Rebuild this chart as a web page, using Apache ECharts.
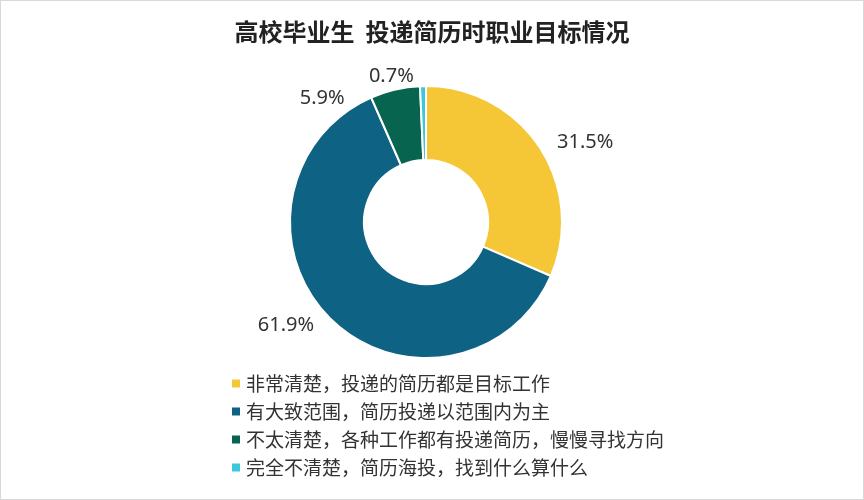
<!DOCTYPE html>
<html><head><meta charset="utf-8">
<script src="https://cdn.jsdelivr.net/npm/echarts@6/dist/echarts.min.js"></script>
<style>body{margin:0;background:#fff}#main{width:862px;height:498px;border:1px solid #d9d9d9}</style>
</head><body><div id="main"></div>
<script>
var categories = ['非常清楚，投递的简历都是目标工作', '有大致范围，简历投递以范围内为主', '不太清楚，各种工作都有投递简历，慢慢寻找方向', '完全不清楚，简历海投，找到什么算什么'];
var values = [31.5, 61.9, 5.9, 0.7];
var colors = ['#F5C636', '#0E6283', '#07654F', '#3CC8DC'];

var chart = echarts.init(document.getElementById('main'));
chart.setOption({
    color: colors,
    title: {
        text: '高校毕业生  投递简历时职业目标情况',
        left: 'center', top: 14,
        textStyle: {fontSize: 24, fontWeight: 'bold', color: '#222', fontFamily: 'Noto Sans CJK SC'}
    },
    legend: {
        orient: 'vertical', left: 224, top: 368, itemGap: 9,
        itemWidth: 10, itemHeight: 10, icon: 'rect',
        textStyle: {fontSize: 19, color: '#333', fontFamily: 'Noto Sans CJK SC'},
        data: categories
    },
    series: [{
        type: 'pie',
        center: [425, 221],
        radius: [62, 136],
        startAngle: 90,
        clockwise: true,
        itemStyle: {borderColor: '#fff', borderWidth: 2},
        label: {
            show: true, position: 'outside',
            formatter: function(p) { return p.value.toFixed(1) + '%'; },
            fontSize: 20, color: '#333', fontFamily: 'Noto Sans'
        },
        labelLine: {show: false, length: 10, length2: 4},
        emphasis: {disabled: true},
        data: categories.map(function(c, i) { return {name: c, value: values[i]}; })
    }]
});
</script></body></html>
